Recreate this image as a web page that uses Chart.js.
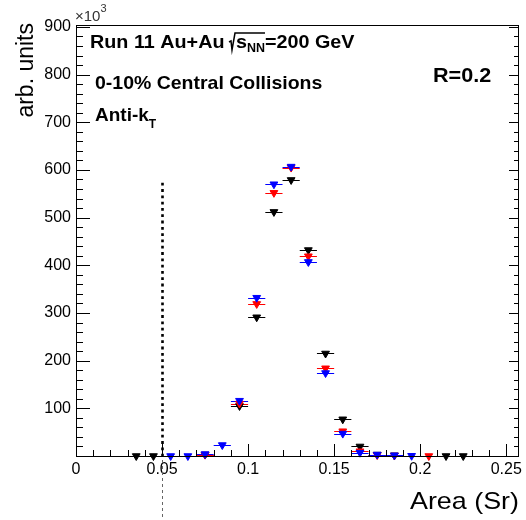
<!DOCTYPE html>
<html>
<head>
<meta charset="utf-8">
<script src="https://cdn.jsdelivr.net/npm/chart.js@4.4.0/dist/chart.umd.min.js"></script>
<style>
html,body{margin:0;padding:0;background:#fff;}
</style>
</head>
<body>
<canvas id="area_graph" width="526" height="520"></canvas>
<script>
// bin centres (Sr) and counts (x10^3) for the three series
const bin_half    = 0.005;

const black_area  = [0.035,0.045,0.075,0.095,0.105,0.115,0.125,0.135,0.145,0.155,0.165,0.175,0.185,0.215,0.225];
const black_value = [0,0,3,105,291,512,579,432,215,77,20,3,1.5,0,0];

const red_area    = [0.075,0.095,0.105,0.115,0.125,0.135,0.145,0.155,0.165,0.175,0.185,0.205];
const red_value   = [3,110,319,552,605,419,184,52,10,2,1,0];

const blue_area   = [0.055,0.065,0.075,0.085,0.095,0.105,0.115,0.125,0.135,0.145,0.155,0.165,0.175,0.185,0.195];
const blue_value  = [0,0,4,23,116,332,570,607,407,174,47,7,3,1.5,0.5];

const x_ticks       = [0,0.05,0.1,0.15,0.2,0.25];
const x_tick_labels = ["0","0.05","0.1","0.15","0.2","0.25"];
const y_ticks       = [100,200,300,400,500,600,700,800,900];
const y_tick_labels = ["100","200","300","400","500","600","700","800","900"];

// dotted cut line
const cut_area = 0.05;
const cut_top  = 573;

const FONT = "'Liberation Sans', Arial, Helvetica, sans-serif";

function to_points(xs, ys){
    let pts = [];
    for (let i = 0; i < xs.length; i++){
        pts.push({x: xs[i], y: ys[i]});
    }
    return pts;
}

function make_set(xs, ys, color, order){
    return {
        data: to_points(xs, ys),
        backgroundColor: color,
        borderColor: color,
        borderWidth: 1,
        pointStyle: "triangle",
        rotation: 180,
        pointRadius: 4.5,
        pointHoverRadius: 4.5,
        showLine: false,
        clip: false,
        order: order
    };
}

// text helper, lets me widen text a bit like the root output
function put_text(ctx, str, x, y, font, sx){
    ctx.save();
    ctx.font = font;
    ctx.translate(x, y);
    ctx.scale(sx, 1);
    ctx.fillText(str, 0, 0);
    let w = ctx.measureText(str).width * sx;
    ctx.restore();
    return w;
}

// horizontal error bars (bin width) under the markers
const error_bars = {
    id: "error_bars",
    beforeDatasetsDraw(chart){
        const ctx = chart.ctx;
        const xs = chart.scales.x, ys = chart.scales.y;
        ctx.save();
        ctx.lineWidth = 1;
        for (let ds of chart.data.datasets.slice().sort((a,b) => b.order - a.order)){
            ctx.strokeStyle = ds.borderColor;
            for (let p of ds.data){
                let yy = Math.round(ys.getPixelForValue(p.y)) + 0.5;
                ctx.beginPath();
                ctx.moveTo(xs.getPixelForValue(p.x - bin_half), yy);
                ctx.lineTo(xs.getPixelForValue(p.x + bin_half), yy);
                ctx.stroke();
            }
        }
        ctx.restore();
    }
};

// frame, inward ticks, cut line and all the labels
const decorations = {
    id: "decorations",
    afterDraw(chart){
        const ctx = chart.ctx;
        const a = chart.chartArea;
        const xs = chart.scales.x, ys = chart.scales.y;

        ctx.save();
        ctx.strokeStyle = "#000";
        ctx.lineWidth = 1;
        ctx.strokeRect(a.left + 0.5, a.top + 0.5, a.right - a.left - 1, a.bottom - a.top);

        ctx.beginPath();
        // x axis ticks
        for (let i = 0; i <= 25; i++){
            let v = i * 0.01;
            let px = Math.round(xs.getPixelForValue(v)) + 0.5;
            let len = (i % 5 == 0) ? 12 : 6;
            ctx.moveTo(px, a.bottom);
            ctx.lineTo(px, a.bottom - len);
        }
        // y axis ticks, left and right
        for (let i = 1; i <= 45; i++){
            let v = i * 20;
            let py = Math.round(ys.getPixelForValue(v)) + 0.5;
            let major = (i % 5 == 0);
            ctx.moveTo(a.left, py);
            ctx.lineTo(a.left + (major ? 14 : 7), py);
            ctx.moveTo(a.right, py);
            ctx.lineTo(a.right - (major ? 10 : 5), py);
        }
        ctx.stroke();

        // dotted cut line
        let cx = Math.round(xs.getPixelForValue(cut_area)) + 0.5;
        ctx.lineWidth = 2.6;
        ctx.setLineDash([2.8, 3.5]);
        ctx.beginPath();
        ctx.moveTo(cx, ys.getPixelForValue(cut_top));
        ctx.lineTo(cx, a.bottom);
        ctx.stroke();
        ctx.lineWidth = 1;
        ctx.strokeStyle = "#666";
        ctx.setLineDash([3, 3]);
        ctx.beginPath();
        ctx.moveTo(cx, a.bottom + 4);
        ctx.lineTo(cx, chart.height);
        ctx.stroke();
        ctx.setLineDash([]);
        ctx.strokeStyle = "#000";

        ctx.fillStyle = "#000";
        ctx.textBaseline = "alphabetic";
        ctx.textAlign = "left";

        // x10^3
        ctx.fillStyle = "#333";
        let w = put_text(ctx, "\u00d710", a.left - 1, 21, "15px " + FONT, 1);
        put_text(ctx, "3", a.left - 1 + w, 12, "11px " + FONT, 1);
        ctx.fillStyle = "#000";

        // Run 11 line with sqrt(s_NN)
        const bold = "bold 19px " + FONT;
        let x = 90, base = 48;
        x += put_text(ctx, "Run 11 Au+Au ", x, base, bold, 1.04);
        ctx.lineWidth = 1.5;
        ctx.beginPath();
        ctx.moveTo(x - 1, base - 6);
        ctx.lineTo(x + 1, base - 7);
        ctx.lineTo(x + 2, base + 2);
        ctx.lineTo(x + 5, base - 15);
        ctx.lineTo(x + 35, base - 15);
        ctx.stroke();
        x += 6;
        x += put_text(ctx, "s", x, base, bold, 1.04);
        x += put_text(ctx, "NN", x, base + 4, "bold 12px " + FONT, 1.04);
        put_text(ctx, "=200 GeV", x, base, bold, 1.04);

        put_text(ctx, "0-10% Central Collisions", 95, 89, bold, 1.025);

        w = put_text(ctx, "Anti-k", 95, 121, bold, 1);
        put_text(ctx, "T", 95 + w, 128, "bold 12px " + FONT, 1);

        put_text(ctx, "R=0.2", 433, 82, "bold 20px " + FONT, 1.08);

        // axis titles
        ctx.textAlign = "right";
        put_text(ctx, "Area (Sr)", a.right, 509, "24px " + FONT, 1.12);

        ctx.save();
        ctx.translate(33, 23);
        ctx.rotate(-Math.PI / 2);
        ctx.font = "23px " + FONT;
        ctx.fillText("arb. units", 0, 0);
        ctx.restore();

        ctx.restore();
    }
};

window.addEventListener("load", function(){
    const ctx = document.getElementById("area_graph").getContext("2d");
    const myChart = new Chart(ctx, {
        type: "scatter",
        data: {
            datasets: [
                make_set(black_area, black_value, "#000000", 2),
                make_set(red_area,   red_value,   "#ff0000", 1),
                make_set(blue_area,  blue_value,  "#0000ff", 0)
            ]
        },
        options: {
            responsive: false,
            devicePixelRatio: 1,
            animation: false,
            events: [],
            layout: { padding: { left: 0, top: 25, right: 5, bottom: 0 } },
            plugins: {
                legend:  { display: false },
                tooltip: { enabled: false }
            },
            scales: {
                x: {
                    type: "linear",
                    min: 0,
                    max: 0.2574,
                    grid:   { display: false, drawTicks: false },
                    border: { display: false },
                    afterBuildTicks: s => { s.ticks = x_ticks.map(v => ({value: v})); },
                    afterFit: s => { s.height = 64; },
                    ticks: {
                        padding: 4,
                        color: "#000",
                        font: { family: FONT, size: 16 },
                        maxRotation: 0,
                        autoSkip: false,
                        callback: (v, i) => x_tick_labels[i]
                    }
                },
                y: {
                    type: "linear",
                    min: 0,
                    max: 904,
                    grid:   { display: false, drawTicks: false },
                    border: { display: false },
                    afterBuildTicks: s => { s.ticks = y_ticks.map(v => ({value: v})); },
                    afterFit: s => { s.width = 76; },
                    ticks: {
                        padding: 5,
                        color: "#000",
                        font: { family: FONT, size: 16 },
                        autoSkip: false,
                        callback: (v, i) => y_tick_labels[i]
                    }
                }
            }
        },
        plugins: [error_bars, decorations]
    });
});
</script>
</body>
</html>
